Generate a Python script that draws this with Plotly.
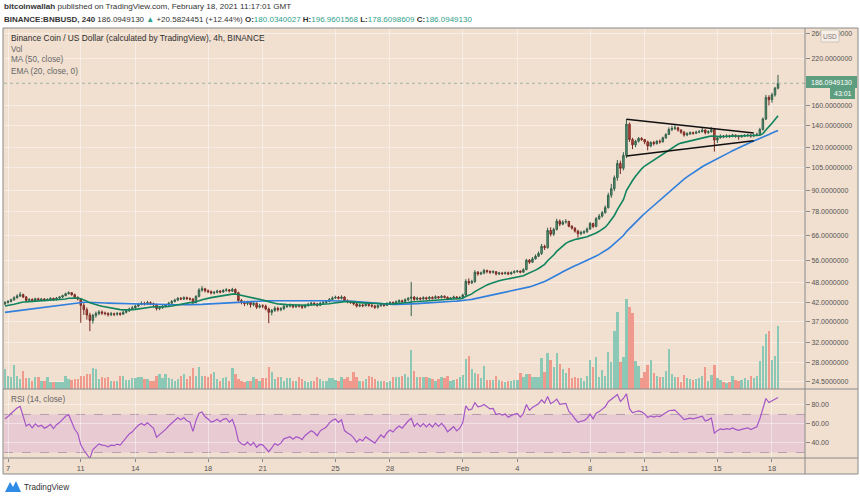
import numpy as np
import pandas as pd
import plotly.graph_objects as go

# ------------------------------------------------------------------ data
# 4h candles, first candle 2021-01-06 20:00 UTC, one row per day after it
first_open = 41.6
closes = [
    42.0,
    42.3, 42.8, 43.4, 43.9, 44.3, 43.6,      # Jan 7
    42.6, 42.9, 42.5, 43.1, 42.8, 43.0,      # Jan 8
    42.7, 42.9, 43.2, 42.8, 43.3, 43.6,      # Jan 9
    44.0, 44.6, 44.9, 44.3, 43.5, 43.0,      # Jan 10
    41.2, 40.0, 38.6, 37.2, 38.5, 39.0,      # Jan 11
    39.4, 39.1, 39.0, 38.7, 38.9, 38.8,      # Jan 12
    39.0, 38.8, 39.3, 39.7, 40.2, 40.5,      # Jan 13
    41.0, 41.5, 41.8, 41.6, 42.0, 41.7,      # Jan 14
    41.4, 40.3, 40.6, 40.9, 41.3, 41.8,      # Jan 15
    42.3, 42.7, 43.2, 43.0, 43.4, 43.1,      # Jan 16
    43.0, 42.0, 43.8, 45.7, 46.1, 45.5,      # Jan 17
    45.2, 44.8, 45.0, 45.4, 45.1, 45.6,      # Jan 18
    45.8, 45.4, 45.9, 44.9, 42.6, 42.0,      # Jan 19
    41.7, 42.1, 41.4, 41.8, 40.7, 41.1,      # Jan 20
    41.0, 40.2, 39.3, 39.8, 40.4, 40.0,      # Jan 21
    40.3, 40.9, 41.0, 41.2, 40.8, 41.1,      # Jan 22
    41.0, 40.7, 41.2, 41.5, 41.8, 41.6,      # Jan 23
    41.2, 41.8, 42.0, 42.3, 42.9, 43.3,      # Jan 24
    43.5, 43.2, 43.6, 42.5, 42.2, 42.0,      # Jan 25
    41.6, 41.0, 41.3, 41.1, 41.5, 41.2,      # Jan 26
    41.0, 40.7, 41.1, 41.5, 41.2, 41.7,      # Jan 27
    42.0, 41.8, 42.2, 42.5, 42.3, 42.8,      # Jan 28
    43.2, 43.6, 42.9, 43.3, 43.0, 43.4,      # Jan 29
    43.1, 43.5, 43.2, 43.7, 43.4, 43.8,      # Jan 30
    43.5, 43.0, 43.3, 43.6, 43.2, 43.5,      # Jan 31
    44.2, 48.5, 48.0, 48.4, 51.6, 51.0,      # Feb 1
    51.3, 52.2, 51.9, 51.6, 51.8, 51.0,      # Feb 2
    51.3, 51.1, 51.4, 51.0, 51.5, 51.8,      # Feb 3
    52.0, 51.6, 52.5, 56.0, 55.2, 56.5,      # Feb 4
    57.5, 58.6, 61.5, 61.0, 68.5, 66.8,      # Feb 5
    69.0, 73.0, 71.5, 72.5, 72.8, 70.5,      # Feb 6
    69.6, 68.2, 67.0, 67.6, 67.9, 69.2,      # Feb 7
    71.8, 70.4, 74.2, 75.5, 77.3, 80.0,      # Feb 8
    87.0, 91.0, 98.0, 108.0, 104.5, 114.0,   # Feb 9
    141.0, 127.0, 122.5, 125.5, 128.0, 127.0,  # Feb 10
    125.0, 121.5, 124.5, 123.5, 125.5, 125.0,  # Feb 11
    128.5, 131.5, 136.0, 137.0, 137.5, 135.5,  # Feb 12
    133.5, 131.0, 132.0, 133.0, 132.5, 133.5,  # Feb 13
    134.0, 135.5, 133.0, 134.0, 135.8, 126.5,  # Feb 14
    128.5, 130.0, 129.5, 130.2, 129.8, 130.8,  # Feb 15
    130.0, 129.5, 130.0, 130.6, 130.9, 130.2,  # Feb 16
    130.8, 131.5, 136.0, 146.0, 169.0, 166.5,  # Feb 17
    172.0, 180.0340027, 186.094913,            # Feb 18
]
highs = [
    42.4,
    42.7, 43.1, 43.8, 44.4, 45.1, 44.6,
    43.9, 43.2, 43.2, 43.4, 43.4, 43.3,
    43.3, 43.2, 43.5, 43.4, 43.6, 43.9,
    44.3, 44.9, 45.3, 45.1, 44.6, 43.8,
    43.3, 41.8, 40.6, 39.2, 38.9, 39.5,
    39.9, 39.8, 39.5, 39.3, 39.4, 39.2,
    39.4, 39.3, 39.7, 40.1, 40.6, 41.0,
    41.4, 41.9, 42.3, 42.2, 42.5, 42.3,
    42.0, 41.7, 41.0, 41.3, 41.6, 42.2,
    42.7, 43.1, 43.6, 43.6, 43.8, 43.7,
    43.5, 43.3, 44.1, 46.3, 47.0, 46.4,
    45.9, 45.6, 45.4, 45.8, 45.7, 46.0,
    46.3, 46.0, 46.4, 46.2, 45.2, 43.0,
    42.5, 42.5, 42.4, 42.1, 42.0, 41.6,
    41.5, 41.4, 40.6, 40.2, 40.9, 40.8,
    40.7, 41.3, 41.5, 41.7, 41.5, 41.5,
    41.5, 41.4, 41.6, 41.9, 42.2, 42.1,
    41.9, 42.2, 42.4, 42.7, 43.3, 43.8,
    44.0, 43.9, 44.1, 43.8, 42.9, 42.6,
    42.3, 41.9, 41.7, 41.6, 41.9, 41.8,
    41.6, 41.3, 41.5, 41.9, 41.8, 42.1,
    42.4, 42.3, 42.6, 42.9, 42.8, 43.2,
    43.6, 48.3, 43.8, 43.7, 43.5, 43.8,
    43.7, 43.9, 43.8, 44.1, 43.9, 44.2,
    44.1, 43.8, 43.6, 44.0, 43.9, 43.8,
    44.6, 49.2, 49.5, 49.0, 52.3, 52.0,
    51.8, 52.8, 52.5, 52.2, 52.3, 51.9,
    51.7, 51.7, 51.8, 51.8, 51.9, 52.3,
    52.4, 52.2, 53.0, 56.5, 56.4, 57.2,
    58.2, 59.4, 62.5, 62.2, 69.8, 70.0,
    69.8, 74.2, 73.8, 73.4, 74.0, 73.2,
    71.0, 70.0, 68.8, 68.4, 68.6, 69.9,
    72.6, 72.2, 75.0, 76.6, 78.2, 81.2,
    88.5, 94.0, 99.5, 110.5, 110.0, 116.5,
    146.0, 142.5, 128.5, 126.8, 129.2, 129.0,
    127.5, 126.0, 125.5, 125.8, 126.5, 127.0,
    129.5, 132.5, 138.0, 139.5, 140.0, 138.5,
    136.0, 134.5, 133.5, 134.2, 134.0, 134.8,
    135.5, 137.5, 136.0, 135.2, 138.0, 136.5,
    129.8, 131.5, 131.0, 131.6, 131.2, 132.0,
    131.5, 131.0, 131.2, 131.8, 132.0, 131.6,
    131.8, 133.0, 137.5, 147.5, 172.0, 171.5,
    174.5, 181.5, 196.9601568,
]
lows = [
    41.3,
    41.7, 42.0, 42.5, 43.1, 43.6, 43.3,
    42.2, 42.3, 42.1, 42.3, 42.5, 42.5,
    42.4, 42.4, 42.6, 42.5, 42.6, 43.0,
    43.3, 43.8, 44.3, 44.0, 43.2, 42.6,
    36.6, 38.6, 37.4, 34.6, 36.4, 37.9,
    38.5, 38.6, 38.5, 38.2, 38.3, 38.3,
    38.4, 38.4, 38.6, 39.0, 39.4, 39.9,
    40.2, 40.7, 41.2, 41.2, 41.3, 41.3,
    41.0, 39.8, 39.9, 40.2, 40.6, 41.0,
    41.5, 42.0, 42.4, 42.7, 42.7, 42.8,
    42.6, 41.6, 41.8, 43.5, 45.2, 45.0,
    44.8, 44.4, 44.4, 44.7, 44.7, 44.9,
    45.2, 45.0, 45.1, 44.5, 42.2, 41.5,
    41.0, 41.2, 40.6, 40.9, 40.2, 40.4,
    40.4, 39.8, 36.5, 38.5, 39.4, 39.5,
    39.6, 39.9, 40.5, 40.6, 40.4, 40.5,
    40.6, 40.2, 40.4, 40.8, 41.1, 41.2,
    40.8, 41.0, 41.5, 41.7, 42.0, 42.5,
    43.0, 42.9, 42.9, 42.2, 41.8, 41.6,
    41.2, 40.6, 40.7, 40.7, 40.9, 40.8,
    40.6, 40.2, 40.3, 40.8, 40.8, 41.0,
    41.4, 41.5, 41.5, 41.9, 41.9, 42.1,
    42.4, 38.3, 42.5, 42.6, 42.6, 42.8,
    42.8, 42.8, 42.9, 43.0, 43.1, 43.2,
    43.2, 42.7, 42.8, 43.0, 42.9, 42.9,
    43.2, 44.0, 47.3, 47.6, 48.0, 50.4,
    50.6, 50.9, 51.2, 51.0, 51.1, 50.5,
    50.6, 50.7, 50.8, 50.6, 50.7, 51.1,
    51.4, 51.2, 51.4, 52.3, 54.6, 55.0,
    56.2, 57.2, 58.0, 60.0, 60.5, 65.8,
    66.0, 68.5, 70.5, 71.0, 71.8, 70.0,
    68.9, 67.5, 65.2, 66.3, 66.8, 67.4,
    68.8, 69.6, 70.0, 73.6, 74.8, 76.8,
    79.5, 85.5, 89.5, 96.0, 100.5, 103.0,
    112.0, 125.0, 119.0, 120.5, 124.5, 125.8,
    123.0, 118.0, 120.5, 122.0, 122.8, 123.5,
    124.5, 127.5, 131.0, 134.5, 135.5, 134.0,
    132.0, 129.5, 130.0, 131.0, 131.2, 131.8,
    132.5, 133.2, 131.5, 132.0, 133.0, 117.0,
    124.0, 127.8, 128.2, 128.6, 128.4, 129.0,
    128.6, 126.8, 128.5, 129.2, 129.4, 128.6,
    129.0, 129.8, 130.5, 135.0, 145.0, 160.0,
    163.0, 170.0, 178.6098609,
]
volumes = [  # thousand BNB per 4h bar
    20,
    13, 12, 24, 13, 10, 18,
    11, 11, 8, 12, 12, 8,
    8, 12, 7, 7, 7, 7,
    7, 13, 10, 9, 10, 10,
    13, 13, 15, 15, 21, 20,
    10, 12, 11, 12, 8, 8,
    8, 13, 13, 9, 9, 11,
    11, 12, 12, 10, 10, 8,
    8, 13, 15, 11, 15, 11,
    10, 8, 10, 13, 15, 10,
    13, 21, 13, 22, 13, 13,
    12, 15, 17, 10, 8, 11,
    12, 8, 21, 15, 10, 8,
    7, 8, 8, 12, 10, 8,
    11, 11, 22, 17, 10, 12,
    12, 8, 11, 11, 8, 8,
    12, 10, 8, 7, 8, 8,
    12, 10, 8, 8, 11, 11,
    9, 8, 12, 10, 12, 8,
    17, 12, 8, 8, 10, 13,
    12, 10, 8, 8, 8, 7,
    8, 12, 12, 12, 13, 15,
    12, 39, 18, 12, 12, 12,
    12, 11, 10, 8, 10, 12,
    11, 13, 8, 9, 10, 12,
    14, 30, 33, 20, 16, 15,
    11, 23, 9, 9, 9, 13,
    9, 8, 7, 8, 8, 9,
    9, 16, 12, 15, 15, 12,
    12, 12, 31, 17, 36, 29,
    22, 36, 25, 20, 16, 21,
    11, 12, 11, 11, 8, 13,
    29, 22, 32, 12, 19, 13,
    37, 27, 58, 77, 27, 32,
    90, 82, 76, 28, 23, 11,
    17, 24, 29, 16, 13, 12,
    12, 18, 40, 15, 12, 12,
    7, 14, 11, 10, 9, 10,
    11, 13, 22, 8, 14, 24,
    11, 9, 7, 6, 7, 13,
    9, 8, 9, 11, 9, 13,
    11, 13, 28, 43, 55, 58,
    29, 33, 63,
]
# closes of the 50 bars before the visible window (for MA / EMA / RSI warm-up)
warmup_closes = [
    36.8, 37.0, 37.3, 37.1, 37.4, 37.2, 37.0, 37.5, 37.6, 37.3, 37.8, 37.6,
    37.4, 37.7, 37.9, 37.5, 37.8, 38.0, 37.7, 37.6, 37.9, 38.2, 38.0, 37.8,
    38.3, 38.6, 39.2, 39.8, 40.5, 40.1, 40.4, 40.9, 40.3, 40.0, 40.6, 41.0,
    40.7, 40.4, 40.9, 41.3, 41.1, 41.5, 41.8, 41.4, 41.0, 41.3, 41.7, 41.9,
    41.5, 41.6,
]
price_ticks = [24.5, 28, 32, 37, 42, 48, 56, 66, 78, 90, 105, 120, 140, 160, 220, 260]
rsi_ticks = [40, 60, 80]
date_ticks = ["2021-01-07", "2021-01-11", "2021-01-14", "2021-01-18", "2021-01-21",
              "2021-01-25", "2021-01-28", "2021-02-01", "2021-02-04", "2021-02-08",
              "2021-02-11", "2021-02-15", "2021-02-18"]
date_labels = ["7", "11", "14", "18", "21", "25", "28", "Feb", "4", "8", "11", "15", "18"]
tri_dates = ["2021-02-10 00:00", "2021-02-17 00:00"]
tri_upper = [145.7, 132.8]
tri_lower = [113.6, 126.0]
last_price = 186.094913

# ------------------------------------------------------------------ derived
times = pd.date_range("2021-01-06 20:00", periods=len(closes), freq="4h")
c = np.array(closes)
o = np.concatenate([[first_open], c[:-1]])
h = np.maximum(np.array(highs), np.maximum(o, c))
l = np.minimum(np.array(lows), np.minimum(o, c))
allc = pd.Series(warmup_closes + closes)
n0 = len(warmup_closes)
ema20 = allc.ewm(span=20, adjust=False).mean().iloc[n0:].values
ma50 = allc.rolling(50).mean().iloc[n0:].values
d = allc.diff()
gain = d.clip(lower=0).ewm(alpha=1 / 14, adjust=False).mean()
loss = (-d.clip(upper=0)).ewm(alpha=1 / 14, adjust=False).mean()
rsi = (100 - 100 / (1 + gain / loss)).iloc[n0:].values

W, H = 860, 498
def px(x): return x / W
def py(y): return 1 - y / H

BG = "#F1DFCF"
GRID = "rgba(255,255,255,0.45)"
FRAME = "#8A8A8A"
FONT = "Liberation Sans, Arial, sans-serif"
TXT = "#4A4A4A"
t0 = pd.Timestamp("2021-01-06 18:43")
t1 = pd.Timestamp("2021-02-19 19:35")

vol_colors = ["#8CC8B6" if cc >= oo else "#F09A8D" for oo, cc in zip(o, c)]

fig = go.Figure()
fig.add_trace(go.Bar(x=times, y=volumes, marker_color=vol_colors, marker_line_width=0,
                     width=4 * 3600 * 1000 * 0.78, xaxis="x", yaxis="y3", showlegend=False))
fig.add_trace(go.Candlestick(
    x=times, open=o, high=h, low=l, close=c, xaxis="x", yaxis="y",
    increasing=dict(line=dict(color="#33614C", width=1), fillcolor="#56A078"),
    decreasing=dict(line=dict(color="#7A2B25", width=1), fillcolor="#CF4A3E"),
    whiskerwidth=0, showlegend=False))
fig.add_trace(go.Scatter(x=times, y=ma50, mode="lines", line=dict(color="#2F7FDD", width=1.6),
                         xaxis="x", yaxis="y", showlegend=False))
fig.add_trace(go.Scatter(x=times, y=ema20, mode="lines", line=dict(color="#10845E", width=1.6),
                         xaxis="x", yaxis="y", showlegend=False))
fig.add_trace(go.Scatter(x=tri_dates, y=tri_upper, mode="lines", line=dict(color="#111111", width=1.6),
                         xaxis="x", yaxis="y", showlegend=False))
fig.add_trace(go.Scatter(x=tri_dates, y=tri_lower, mode="lines", line=dict(color="#111111", width=1.6),
                         xaxis="x", yaxis="y", showlegend=False))
fig.add_trace(go.Scatter(x=[t0, t1], y=[last_price, last_price], mode="lines",
                         line=dict(color="#9DB5A5", width=1, dash="dot"),
                         xaxis="x", yaxis="y", showlegend=False))
fig.add_trace(go.Scatter(x=times, y=rsi, mode="lines", line=dict(color="#A455C6", width=1.2),
                         xaxis="x2", yaxis="y2", showlegend=False))

tickfont = dict(family=FONT, size=7, color="#555555")
datefont = dict(family=FONT, size=7.5, color="#555555")
fig.update_layout(
    width=W, height=H, margin=dict(l=0, r=0, t=0, b=0),
    paper_bgcolor="white", plot_bgcolor=BG, showlegend=False,
    bargap=0,
    xaxis=dict(domain=[px(4), px(805)], type="date", range=[t0, t1], anchor="y",
               tickvals=date_ticks, showticklabels=False, showgrid=True, gridcolor=GRID,
               gridwidth=1, zeroline=False, showline=False, ticks="",
               rangeslider=dict(visible=False), fixedrange=True),
    yaxis=dict(domain=[py(389), py(28)], type="log",
               range=[np.log10(23.35), np.log10(270.8)], anchor="x", side="right",
               tickvals=price_ticks, ticktext=[f"{v:.7f}" for v in price_ticks],
               ticks="outside", ticklen=4, tickcolor=FRAME, tickfont=tickfont,
               showgrid=True, gridcolor=GRID, zeroline=False, showline=False),
    yaxis3=dict(overlaying="y", range=[0, 361], visible=False, fixedrange=True),
    xaxis2=dict(domain=[px(4), px(805)], type="date", range=[t0, t1], anchor="y2",
                matches="x", tickvals=date_ticks, ticktext=date_labels, ticks="outside",
                ticklen=3, tickcolor=FRAME, tickfont=datefont, showgrid=True, gridcolor=GRID,
                zeroline=False, showline=False),
    yaxis2=dict(domain=[py(458), py(389)], range=[24.2, 96.8], anchor="x2", side="right",
                tickvals=rsi_ticks, ticktext=[f"{v:.2f}" for v in rsi_ticks], ticks="outside",
                ticklen=4, tickcolor=FRAME, tickfont=tickfont, showgrid=True, gridcolor=GRID,
                zeroline=False, showline=False),
)

shapes = []
# peach panel behind everything (plot + axis strips)
shapes.append(dict(type="rect", xref="paper", yref="paper", x0=px(3), x1=px(858),
                   y0=py(474), y1=py(28), fillcolor=BG, line_width=0, layer="below"))
# RSI band 30-70
shapes.append(dict(type="rect", xref="x2 domain", yref="y2", x0=0, x1=1, y0=30, y1=70,
                   fillcolor="#E8CAD3", line_width=0, layer="below"))
for lv in (30, 70):
    shapes.append(dict(type="line", xref="x2 domain", yref="y2", x0=0, x1=1, y0=lv, y1=lv,
                       line=dict(color="#B79FB0", width=1, dash="dash"), layer="below"))
# frame
for (x0, y0, x1, y1) in [(3, 28, 858, 28), (3, 474, 858, 474), (3, 28, 3, 474),
                         (858, 28, 858, 474), (805, 28, 805, 474),
                         (3, 389, 858, 389), (3, 458, 858, 458)]:
    shapes.append(dict(type="line", xref="paper", yref="paper", x0=px(x0), x1=px(x1),
                       y0=py(y0), y1=py(y1), line=dict(color=FRAME, width=1), layer="above"))
# price label boxes
shapes.append(dict(type="rect", xref="paper", yref="paper", x0=px(806), x1=px(857),
                   y0=py(88), y1=py(76), fillcolor="#5E9E80", line_width=0, layer="above"))
shapes.append(dict(type="rect", xref="paper", yref="paper", x0=px(830), x1=px(855),
                   y0=py(99), y1=py(88), fillcolor="#5E9E80", line_width=0, layer="above"))
shapes.append(dict(type="rect", xref="paper", yref="paper", x0=px(821), x1=px(839),
                   y0=py(42), y1=py(30), fillcolor="#F7EEE6", line=dict(color="#CFC6BE", width=1),
                   layer="above"))
# TradingView logo mark
shapes.append(dict(type="path", xref="paper", yref="paper",
                   path=f"M {px(5)} {py(492)} L {px(10)} {py(482)} L {px(13)} {py(487)} "
                        f"L {px(16)} {py(481)} L {px(21)} {py(492)} Z",
                   fillcolor="#2E8BE6", line_width=0, layer="above"))
fig.update_layout(shapes=shapes)

def ann(x, y, text, size=8.2, color=TXT, xanchor="left"):
    return dict(x=px(x), y=py(y), xref="paper", yref="paper", text=text, showarrow=False,
                xanchor=xanchor, yanchor="middle", borderpad=0,
                font=dict(family=FONT, size=size, color=color))

G = "#2FA08A"
anns = [
    ann(3, 7, "<b>bitcoinwallah</b> published on TradingView.com, February 18, 2021 11:17:01 GMT",
        size=8.1, color="#333333"),
    ann(3, 19, "<b>BINANCE:BNBUSD, 240</b> 186.0949130 <span style='color:%s'>▲</span> "
               "+20.5824451 (+12.44%%) <b>O:</b><span style='color:%s'>180.0340027</span> "
               "<b>H:</b><span style='color:%s'>196.9601568</span> <b>L:</b>"
               "<span style='color:%s'>178.6098609</span> <b>C:</b>"
               "<span style='color:%s'>186.0949130</span>" % (G, G, G, G, G),
        size=8.0, color="#333333"),
    ann(10, 38, "Binance Coin / US Dollar (calculated by TradingView), 4h, BINANCE",
        size=8.4, color="#2F2F2F"),
    ann(10, 49, "Vol", color="#666666"),
    ann(10, 60, "MA (50, close)", color="#666666"),
    ann(10, 71, "EMA (20, close, 0)", color="#666666"),
    ann(10, 399, "RSI (14, close)", color="#666666"),
    ann(831.5, 82, "186.0949130", size=7, color="white", xanchor="center"),
    ann(842.5, 93.5, "43:01", size=7, color="white", xanchor="center"),
    ann(830, 36, "USD", size=6.5, color="#777777", xanchor="center"),
    ann(23, 487, "TradingView", size=8.2, color="#333333"),
]
fig.update_layout(annotations=anns)

fig.write_html("out.html", config={"displayModeBar": False},
               post_script="document.body.style.margin='0';")
